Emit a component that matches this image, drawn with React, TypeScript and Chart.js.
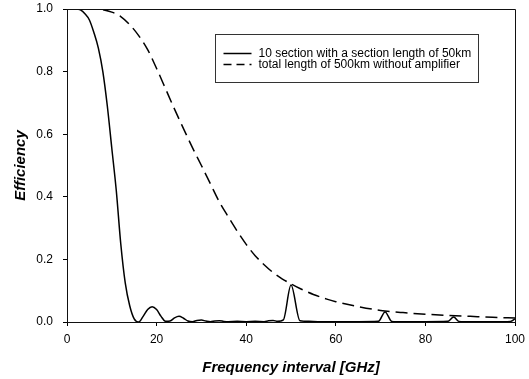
import React, { useEffect, useRef } from "react";
import { Chart, registerables } from "chart.js";

Chart.register(...registerables);

const solidFreq = [0, 1, 2, 3, 4, 5, 6, 7, 8, 9, 10, 11, 12, 13, 14, 15, 16, 17, 18, 19, 20, 21, 22, 23, 24, 25, 26, 27, 28, 29, 30, 31, 32, 33, 34, 35, 36, 38, 40, 42, 44, 45, 46, 47, 48.3, 50, 52, 54, 56, 60, 65, 69.5, 71, 72.5, 75, 80, 85, 86.3, 87.5, 90, 95, 99, 100];
const solidEff = [1, 1, 1, 0.997, 0.985, 0.965, 0.925, 0.875, 0.8, 0.69, 0.555, 0.42, 0.25, 0.125, 0.052, 0.01, 0.0, 0.018, 0.04, 0.049, 0.04, 0.018, 0.002, 0.003, 0.013, 0.018, 0.012, 0.003, 0.001, 0.005, 0.006, 0.003, 0.001, 0.003, 0.004, 0.002, 0.001, 0.002, 0.001, 0.002, 0.001, 0.004, 0.005, 0.002, 0.007, 0.118, 0.004, 0.002, 0.001, 0.001, 0.001, 0.002, 0.032, 0.002, 0.001, 0.001, 0.002, 0.016, 0.002, 0.001, 0.001, 0.002, 0.01];

const dashFreq = [0, 5, 8, 10, 12, 14, 16, 18, 20, 22, 24, 26, 28, 30, 32, 34, 36, 38, 40, 42, 44, 46, 48, 50, 52, 55, 58, 60, 65, 70, 75, 80, 85, 90, 95, 100];
const dashEff = [1, 1, 0.998, 0.99, 0.976, 0.95, 0.915, 0.87, 0.81, 0.745, 0.68, 0.618, 0.557, 0.5, 0.442, 0.384, 0.336, 0.29, 0.248, 0.212, 0.183, 0.158, 0.138, 0.122, 0.107, 0.088, 0.073, 0.065, 0.049, 0.037, 0.03, 0.025, 0.021, 0.018, 0.015, 0.013];

const seriesLabels = [
  "10 section with a section length of 50km",
  "total length of 500km without amplifier",
];
const xTitle = "Frequency interval [GHz]";
const yTitle = "Efficiency";
const xRange = [0, 100];
const xStep = 20;
const yRange = [0, 1];
const yStep = 0.2;

const FONT = '"Liberation Sans", Arial, Helvetica, sans-serif';

const framePlugin = {
  id: "frameBox",
  afterDraw(chart: any) {
    const { ctx, chartArea } = chart;
    const { left, top, right, bottom } = chartArea;
    ctx.save();
    ctx.strokeStyle = "#111";
    ctx.lineWidth = 1;
    ctx.beginPath();
    ctx.moveTo(Math.round(left) - 0.5, Math.round(top) + 0.5);
    ctx.lineTo(Math.round(right) + 0.5, Math.round(top) + 0.5);
    ctx.lineTo(Math.round(right) + 0.5, Math.round(bottom) + 0.5);
    ctx.stroke();
    ctx.restore();
  },
};

const legendPlugin = {
  id: "innerLegend",
  afterDraw(chart: any) {
    const { ctx, chartArea } = chart;
    const w = chartArea.right - chartArea.left;
    const h = chartArea.bottom - chartArea.top;
    const bx = Math.round(chartArea.left + w * 0.33) + 0.5;
    const by = Math.round(chartArea.top + h * 0.08) + 0.5;
    const bw = 263;
    const bh = 48;
    ctx.save();
    ctx.fillStyle = "#fff";
    ctx.fillRect(bx, by, bw, bh);
    ctx.strokeStyle = "#333";
    ctx.lineWidth = 1;
    ctx.strokeRect(bx, by, bw, bh);
    ctx.font = `12px ${FONT}`;
    ctx.textBaseline = "middle";
    ctx.fillStyle = "#000";
    chart.data.datasets.forEach((ds: any, i: number) => {
      const y = by + 19 + i * 11;
      ctx.beginPath();
      ctx.setLineDash(ds.borderDash ? [8, 5] : []);
      ctx.strokeStyle = ds.borderColor;
      ctx.lineWidth = ds.borderWidth;
      ctx.moveTo(bx + 8, y);
      ctx.lineTo(bx + 36, y);
      ctx.stroke();
      ctx.setLineDash([]);
      ctx.fillText(ds.label, bx + 43, y);
    });
    ctx.restore();
  },
};

export default function App() {
  const ref = useRef<HTMLCanvasElement | null>(null);

  useEffect(() => {
    document.body.style.margin = "0";
    const canvas = ref.current;
    if (!canvas) return;
    const chart = new Chart(canvas, {
      type: "line",
      data: {
        datasets: [
          {
            label: seriesLabels[0],
            data: solidFreq.map((x, i) => ({ x, y: solidEff[i] })),
            borderColor: "#000",
            borderWidth: 1.5,
            pointRadius: 0,
            cubicInterpolationMode: "monotone",
            fill: false,
          },
          {
            label: seriesLabels[1],
            data: dashFreq.map((x, i) => ({ x, y: dashEff[i] })),
            borderColor: "#000",
            borderWidth: 1.5,
            borderDash: [12, 6],
            pointRadius: 0,
            cubicInterpolationMode: "monotone",
            fill: false,
          },
        ],
      },
      options: {
        animation: false,
        responsive: false,
        maintainAspectRatio: false,
        layout: { padding: { top: 9, right: 14, left: 0, bottom: 0 } },
        plugins: {
          legend: { display: false },
          tooltip: { enabled: false },
        },
        scales: {
          x: {
            type: "linear",
            min: xRange[0],
            max: xRange[1],
            ticks: {
              stepSize: xStep,
              color: "#000",
              font: { family: FONT, size: 12 },
              padding: 6,
              maxRotation: 0,
            },
            grid: { drawOnChartArea: false, drawTicks: true, tickLength: 4, color: "#000" },
            border: { display: true, color: "#111", width: 1 },
            title: {
              display: true,
              text: xTitle,
              color: "#000",
              font: { family: FONT, size: 15, weight: "bold", style: "italic" },
              padding: { top: 0, bottom: 2 },
            },
            afterFit(scale: any) {
              scale.height = 57;
              scale.paddingLeft = 0;
              scale.paddingRight = 0;
            },
          },
          y: {
            type: "linear",
            min: yRange[0],
            max: yRange[1],
            ticks: {
              stepSize: yStep,
              color: "#000",
              font: { family: FONT, size: 12 },
              padding: 10,
              callback: (v: any) => Number(v).toFixed(1),
            },
            grid: { drawOnChartArea: false, drawTicks: true, tickLength: 4, color: "#000" },
            border: { display: true, color: "#111", width: 1 },
            title: {
              display: true,
              text: yTitle,
              color: "#000",
              font: { family: FONT, size: 15, weight: "bold", style: "italic" },
              padding: { top: 12, bottom: 0 },
            },
            afterFit(scale: any) {
              scale.width = 67;
              scale.paddingTop = 0;
              scale.paddingBottom = 0;
            },
          },
        },
      },
      plugins: [framePlugin, legendPlugin],
    });
    return () => chart.destroy();
  }, []);

  return (
    <div style={{ width: 529, height: 379, background: "#fff" }}>
      <canvas ref={ref} width={529} height={379} style={{ display: "block" }} />
    </div>
  );
}
